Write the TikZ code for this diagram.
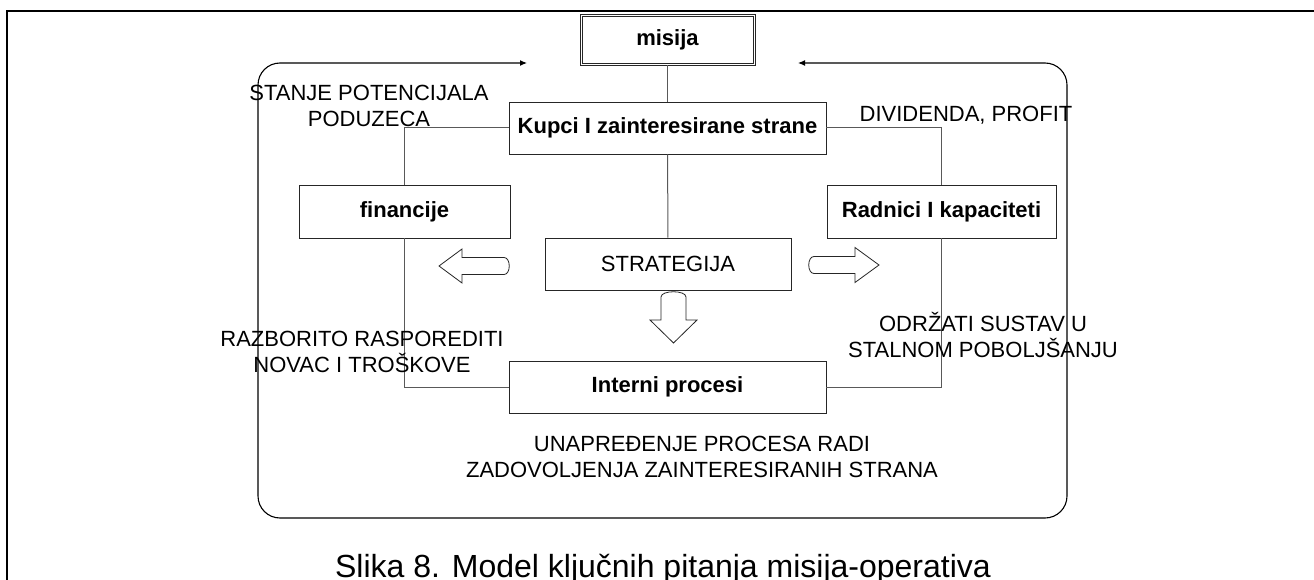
\documentclass[tikz,border=0pt]{standalone}
\usepackage{fontspec}
\setmainfont{Liberation Sans}
\usetikzlibrary{arrows.meta}

\begin{document}
\begin{tikzpicture}[x=1pt,y=-1pt,
        box/.style={draw=black!85,line width=0.9pt,fill=white,rectangle,inner sep=0pt,anchor=center,font=\fontsize{22}{26}\selectfont\bfseries},
        note/.style={align=center,inner sep=0pt,font=\fontsize{22}{26}\selectfont},
        link/.style={draw=black!65,line width=1pt},
        barrow/.style={draw=black!85,line width=0.8pt,fill=white}]
        \useasboundingbox (0,0) rectangle (1314,580);
        %% Page frame
        \draw[line width=2.5pt] (7,600) -- (7,11) -- (1330,11);
        %% Feedback loop
        \coordinate (tipL) at (527,63);
        \coordinate (tipR) at (798,63);
        \draw[line width=1.1pt,rounded corners=22pt,{Latex[length=7pt,width=6pt]}-{Latex[length=7pt,width=6pt]}] (tipL) -- (258,63) -- (258,518) -- (1067,518) -- (1067,63) -- (tipR);
        %% Blocks
        \node[box,minimum width=175pt,minimum height=51pt] (misija) at (667.5,39.5) {misija};
        \draw[draw=black!85,line width=0.7pt] (misija.north west) ++(2.5,2.5) rectangle ([shift={(-2.5,-2.5)}]misija.south east);
        \node[box,minimum width=317pt,minimum height=52pt] (kupci) at (667.5,128) {Kupci I zainteresirane strane};
        \node[box,minimum width=211pt,minimum height=53pt] (fin) at (404.5,211.5) {financije};
        \node[box,minimum width=229pt,minimum height=53pt] (rad) at (941.5,211.5) {Radnici I kapaciteti};
        \node[box,font=\fontsize{22}{26}\selectfont,minimum width=246pt,minimum height=52pt] (strat) at (668,264) {STRATEGIJA};
        \node[box,minimum width=317pt,minimum height=52pt] (interni) at (667.5,387) {Interni procesi};
        %% Links
        \draw[link] (misija) -- (kupci);
        \draw[link] (kupci) -- (strat);
        \draw[link] (kupci.west) -| (fin.north);
        \draw[link] (kupci.east) -| (rad.north);
        \draw[link] (fin.south) |- (interni.west);
        \draw[link] (rad.south) |- (interni.east);
        %% Block arrows
        \draw[barrow] (439,266) -- (462,249) -- (462,257.5) -- (504,257.5) .. controls (511,257.5) and (511,274.5) .. (504,274.5) -- (462,274.5) -- (462,283) -- cycle;
        \draw[barrow] (879,265) -- (855,247.5) -- (855,256.5) -- (814,256.5) .. controls (807,256.5) and (807,273.5) .. (814,273.5) -- (855,273.5) -- (855,282.5) -- cycle;
        \draw[barrow] (673.5,343) -- (650,320) -- (661,320) -- (661,297) .. controls (661,290) and (686,290) .. (686,297) -- (686,320) -- (697,320) -- cycle;
        %% Notes
        \node[note] (stanje) at (369,105.5) {STANJE POTENCIJALA\\PODUZECA};
        \node[note] (divid) at (966,115) {DIVIDENDA, PROFIT};
        \node[note] (razb) at (362,351.5) {RAZBORITO RASPOREDITI\\NOVAC I TROŠKOVE};
        \node[note] (odrz) at (983,334.5) {ODRŽATI SUSTAV U\\STALNOM POBOLJŠANJU};
        \node[note] (unapr) at (702,456.5) {UNAPREĐENJE PROCESA RADI\\ZADOVOLJENJA ZAINTERESIRANIH STRANA};
        %% Caption
        \node[font=\fontsize{32}{38}\selectfont,anchor=base,inner sep=0pt] (caption) at (663,577) {Slika 8. Model ključnih pitanja misija-operativa};
    \end{tikzpicture}
\end{document}
